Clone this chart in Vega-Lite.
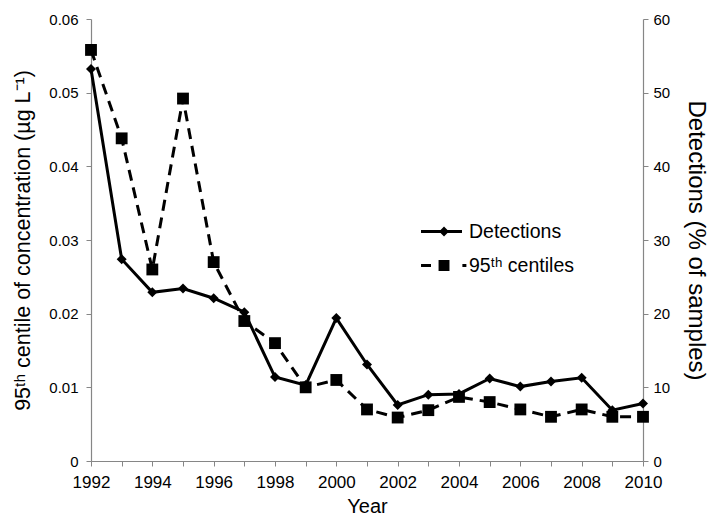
{
  "$schema": "https://vega.github.io/schema/vega-lite/v6.json",
  "autosize": "none",
  "width": 552,
  "height": 442,
  "padding": {"left": 91, "top": 19, "right": 69, "bottom": 55},
  "background": "white",
  "config": {
    "view": {"stroke": null},
    "font": "Liberation Sans",
    "axis": {
      "grid": false,
      "domainColor": "#868686",
      "domainWidth": 1.2,
      "tickColor": "#868686",
      "tickSize": 5,
      "labelColor": "black",
      "labelFont": "Liberation Sans",
      "labelFontSize": 15,
      "titleFont": "Liberation Sans",
      "titleFontSize": 21,
      "titleFontWeight": "normal",
      "titleColor": "black"
    },
    "legend": {
      "orient": "none",
      "legendX": 340,
      "legendY": 202,
      "symbolSize": 441,
      "symbolStrokeWidth": 0,
      "symbolOpacity": 1,
      "symbolFillColor": "black",
      "labelFont": "Liberation Sans",
      "labelFontSize": 19.5,
      "labelColor": "black",
      "labelOffset": 17,
      "rowPadding": 14
    }
  },
  "data": {
    "values": [
      {"year": 1992, "series": "Detections", "value": 53.2},
      {"year": 1993, "series": "Detections", "value": 27.4},
      {"year": 1994, "series": "Detections", "value": 22.9},
      {"year": 1995, "series": "Detections", "value": 23.4},
      {"year": 1996, "series": "Detections", "value": 22.1},
      {"year": 1997, "series": "Detections", "value": 20.2},
      {"year": 1998, "series": "Detections", "value": 11.4},
      {"year": 1999, "series": "Detections", "value": 10.3},
      {"year": 2000, "series": "Detections", "value": 19.4},
      {"year": 2001, "series": "Detections", "value": 13.1},
      {"year": 2002, "series": "Detections", "value": 7.6},
      {"year": 2003, "series": "Detections", "value": 9.0},
      {"year": 2004, "series": "Detections", "value": 9.1},
      {"year": 2005, "series": "Detections", "value": 11.2},
      {"year": 2006, "series": "Detections", "value": 10.1},
      {"year": 2007, "series": "Detections", "value": 10.8},
      {"year": 2008, "series": "Detections", "value": 11.3},
      {"year": 2009, "series": "Detections", "value": 6.9},
      {"year": 2010, "series": "Detections", "value": 7.8},
      {"year": 1992, "series": "95ᵗʰ centiles", "value": 0.0558},
      {"year": 1993, "series": "95ᵗʰ centiles", "value": 0.0438},
      {"year": 1994, "series": "95ᵗʰ centiles", "value": 0.026},
      {"year": 1995, "series": "95ᵗʰ centiles", "value": 0.0492},
      {"year": 1996, "series": "95ᵗʰ centiles", "value": 0.027},
      {"year": 1997, "series": "95ᵗʰ centiles", "value": 0.019},
      {"year": 1998, "series": "95ᵗʰ centiles", "value": 0.016},
      {"year": 1999, "series": "95ᵗʰ centiles", "value": 0.010},
      {"year": 2000, "series": "95ᵗʰ centiles", "value": 0.011},
      {"year": 2001, "series": "95ᵗʰ centiles", "value": 0.007},
      {"year": 2002, "series": "95ᵗʰ centiles", "value": 0.0059},
      {"year": 2003, "series": "95ᵗʰ centiles", "value": 0.0069},
      {"year": 2004, "series": "95ᵗʰ centiles", "value": 0.0087},
      {"year": 2005, "series": "95ᵗʰ centiles", "value": 0.008},
      {"year": 2006, "series": "95ᵗʰ centiles", "value": 0.007},
      {"year": 2007, "series": "95ᵗʰ centiles", "value": 0.006},
      {"year": 2008, "series": "95ᵗʰ centiles", "value": 0.007},
      {"year": 2009, "series": "95ᵗʰ centiles", "value": 0.006},
      {"year": 2010, "series": "95ᵗʰ centiles", "value": 0.006}
    ]
  },
  "encoding": {
    "x": {
      "field": "year",
      "type": "quantitative",
      "scale": {"domain": [1992, 2010], "nice": false, "zero": false},
      "axis": {
        "title": "Year",
        "titleFontSize": 20,
        "labelFontSize": 17,
        "labelFlush": false,
        "values": [1992,1993,1994,1995,1996,1997,1998,1999,2000,2001,2002,2003,2004,2005,2006,2007,2008,2009,2010],
        "labelExpr": "datum.value % 2 == 0 ? datum.value + '' : ''",
        "labelPadding": 8,
        "titlePadding": 6
      }
    }
  },
  "layer": [
    {
      "transform": [{"filter": "datum.series == '95ᵗʰ centiles'"}],
      "encoding": {
        "y": {
          "field": "value",
          "type": "quantitative",
          "scale": {"domain": [0, 0.06], "nice": false},
          "axis": {
            "orient": "left",
            "title": "95ᵗʰ centile of concentration (µg L⁻¹)",
            "titleFontSize": 21.5,
            "values": [0, 0.01, 0.02, 0.03, 0.04, 0.05, 0.06],
            "labelExpr": "datum.value == 0 ? '0' : format(datum.value, '.2f')",
            "labelPadding": 8,
            "titlePadding": 14
          }
        }
      },
      "layer": [
        {
          "mark": {"type": "line", "color": "black", "strokeWidth": 3, "strokeDash": [11, 7]}
        },
        {
          "mark": {"type": "point", "shape": "square", "filled": true, "color": "black", "size": 140, "opacity": 1}
        }
      ]
    },
    {
      "transform": [{"filter": "datum.series == 'Detections'"}],
      "encoding": {
        "y": {
          "field": "value",
          "type": "quantitative",
          "scale": {"domain": [0, 60], "nice": false},
          "axis": {
            "orient": "right",
            "title": "Detections (% of samples)",
            "titleFontSize": 24,
            "values": [0, 10, 20, 30, 40, 50, 60],
            "labelPadding": 5,
            "titlePadding": 14
          }
        }
      },
      "layer": [
        {
          "mark": {"type": "line", "color": "black", "strokeWidth": 3}
        },
        {
          "mark": {"type": "point", "shape": "diamond", "filled": true, "color": "black", "size": 100, "opacity": 1}
        },
        {
          "transform": [{"filter": "false"}],
          "mark": {"type": "point", "filled": true, "color": "black", "opacity": 1},
          "encoding": {
            "shape": {
              "field": "series",
              "type": "nominal",
              "scale": {
                "domain": ["Detections", "95ᵗʰ centiles"],
                "range": [
                  "M-1.95,-0.14H1.95V0.14H-1.95ZM0.24,-0.47L0.71,0L0.24,0.47L-0.23,0Z",
                  "M-1.95,-0.14H-1.0V0.14H-1.95ZM-0.28,-0.52H0.76V0.52H-0.28ZM1.99,-0.14H2.37V0.14H1.99Z"
                ]
              },
              "legend": {"title": null}
            }
          }
        }
      ]
    }
  ],
  "resolve": {"scale": {"y": "independent"}, "axis": {"y": "independent"}}
}
